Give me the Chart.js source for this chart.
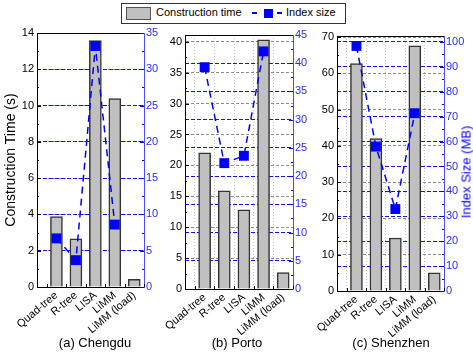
<!DOCTYPE html>
<html>
<head>
<meta charset="utf-8">
<script src="https://cdn.jsdelivr.net/npm/chart.js@4.4.0/dist/chart.umd.min.js"></script>
<style>
  body { margin: 0; width: 473px; height: 357px; position: relative; background: #fff; overflow: hidden;
         font-family: "Liberation Sans", Arial, sans-serif; }
  canvas { position: absolute; top: 0; }
  .abs { position: absolute; white-space: nowrap; }
  #legend { left: 121px; top: 3px; width: 223px; height: 19px; border: 1px solid #333; }
  .sub { top: 335px; font-size: 13px; line-height: 15px; transform: translateX(-50%); }
</style>
</head>
<body>
<div id="legend" class="abs"></div>
<div class="abs" style="left:126px;top:7px;width:23px;height:11px;background:#c0c0c0;border:1px solid #555;"></div>
<div class="abs" style="left:156px;top:6px;font-size:11px;line-height:13px;">Construction time</div>
<div class="abs" style="left:252px;top:12px;width:5px;height:2px;background:#0000ff;"></div>
<div class="abs" style="left:264px;top:9px;width:9px;height:9px;background:#0000ff;"></div>
<div class="abs" style="left:277px;top:12px;width:5px;height:2px;background:#0000ff;"></div>
<div class="abs" style="left:286px;top:6px;font-size:11px;line-height:13px;">Index size</div>

<canvas id="chengdu" width="160" height="357" style="left:0px"></canvas>
<canvas id="porto" width="150" height="357" style="left:160px"></canvas>
<canvas id="shenzhen" width="163" height="357" style="left:310px"></canvas>

<div class="abs sub" style="left:95px;">(a) Chengdu</div>
<div class="abs sub" style="left:237px;">(b) Porto</div>
<div class="abs sub" style="left:391px;">(c) Shenzhen</div>
<div class="abs" style="left:466px;top:172px;font-size:13px;color:#0000ff;transform:translate(-50%,-50%) rotate(-90deg);">Index Size (MB)</div>

<script>
// categories
const methods = ["Quad-tree", "R-tree", "LISA", "LiMM", "LiMM (load)"];

// construction time (s), left axis
const chengduTime = [3.88, 2.65, 13.58, 10.38, 0.42];
const portoTime = [22.05, 15.9, 12.8, 40.3, 2.64];
const shenzhenTime = [62.7, 42.0, 14.6, 67.6, 5.0];

// index size (MB), right axis
const chengduSize = [6.7, 3.7, 33.2, 8.6, null];
const portoSize = [39.3, 22.3, 23.6, 42.1, null];
const shenzhenSize = [98.4, 58.0, 32.9, 71.4, null];

const BLUE = "#0000ff";

// the x axis runs in half steps: one empty slot left of the first bar,
// half a slot right of the last one (as in the original figure)
const SLOTS = 12;
const slotOf = (i) => 2 * i + 2;
const axisLabels = Array(SLOTS).fill("");
methods.forEach((m, i) => { axisLabels[slotOf(i)] = m; });

function toSlots(values) {
    const out = Array(SLOTS).fill(null);
    values.forEach((v, i) => { out[slotOf(i)] = v; });
    return out;
}

// top border + inward ticks, like the original plot frame
const framePlugin = {
    id: "frame",
    afterDraw(chart) {
        const { ctx, chartArea: a, scales } = chart;
        ctx.save();
        ctx.lineWidth = 1;
        ctx.strokeStyle = "#000";
        ctx.beginPath();
        ctx.moveTo(a.left, a.top + 0.5);
        ctx.lineTo(a.right, a.top + 0.5);
        ctx.stroke();

        // left axis ticks
        const y = scales.y;
        const yStep = y.ticks[1].value - y.ticks[0].value;
        for (let v = 0; v <= y.max + 1e-9; v += yStep / 2) {
            const p = Math.round(y.getPixelForValue(v)) + 0.5;
            const len = Math.abs(v / yStep - Math.round(v / yStep)) < 1e-6 ? 4 : 2;
            ctx.beginPath();
            ctx.moveTo(a.left, p);
            ctx.lineTo(a.left + len, p);
            ctx.stroke();
        }
        // bottom ticks between categories
        const x = scales.x;
        for (let k = 1; k < SLOTS; k += 2) {
            const p = Math.round(x.getPixelForValue(k)) + 0.5;
            ctx.beginPath();
            ctx.moveTo(p, a.bottom);
            ctx.lineTo(p, a.bottom - 3);
            ctx.stroke();
        }
        // right axis ticks
        ctx.strokeStyle = BLUE;
        const y1 = scales.y1;
        const y1Step = y1.ticks[1].value - y1.ticks[0].value;
        for (let v = 0; v <= y1.max + 1e-9; v += y1Step / 2) {
            const p = Math.round(y1.getPixelForValue(v)) + 0.5;
            const len = Math.abs(v / y1Step - Math.round(v / y1Step)) < 1e-6 ? 4 : 2;
            ctx.beginPath();
            ctx.moveTo(a.right, p);
            ctx.lineTo(a.right - len, p);
            ctx.stroke();
        }
        ctx.restore();
    }
};

function makeChart(id, times, sizes, cfg) {
    const ctx = document.getElementById(id).getContext("2d");
    return new Chart(ctx, {
        data: {
            labels: axisLabels,
            datasets: [
                {
                    type: "line",
                    label: "Index size",
                    data: toSlots(sizes),
                    yAxisID: "y1",
                    spanGaps: true,
                    borderColor: BLUE,
                    borderWidth: 1.5,
                    borderDash: [7, 5],
                    pointStyle: "rect",
                    pointRadius: 7,
                    pointBackgroundColor: BLUE,
                    pointBorderWidth: 0,
                    fill: false,
                    order: 0
                },
                {
                    type: "bar",
                    label: "Construction time",
                    data: toSlots(times),
                    yAxisID: "y",
                    backgroundColor: "#c0c0c0",
                    borderColor: "#333",
                    borderWidth: 1.5,
                    barThickness: 12,
                    order: 1
                }
            ]
        },
        options: {
            responsive: false,
            animation: false,
            layout: { padding: { top: cfg.top, bottom: 0, left: 0, right: 0 } },
            plugins: { legend: { display: false }, tooltip: { enabled: false } },
            scales: {
                x: {
                    type: "category",
                    offset: false,
                    afterFit: (s) => { s.height = 357 - cfg.bottom; },
                    ticks: {
                        autoSkip: false,
                        minRotation: 40,
                        maxRotation: 40,
                        padding: 2,
                        color: "#000",
                        font: { family: "Liberation Sans", size: 11 }
                    },
                    grid: {
                        display: cfg.xGrid,
                        offset: false,
                        drawTicks: false,
                        color: (c) => (c.index % 2 === 1 ? "#c4c4c4" : "rgba(0,0,0,0)"),
                        lineWidth: 1
                    },
                    border: { display: true, color: "#000", width: 1, dash: [1, 2] }
                },
                y: {
                    position: "left",
                    min: 0,
                    max: cfg.leftMax,
                    afterFit: (s) => { s.width = cfg.yW; },
                    ticks: {
                        stepSize: cfg.leftStep,
                        includeBounds: false,
                        padding: 3,
                        color: "#000",
                        font: { family: "Liberation Sans", size: 11 }
                    },
                    grid: { drawTicks: false, color: "#8c8c8c", lineWidth: 1 },
                    border: { display: true, color: "#000", width: 1, dash: [3, 2] },
                    title: {
                        display: cfg.leftTitle,
                        text: "Construction Time (s)",
                        color: "#000",
                        padding: { top: 3, bottom: 0 },
                        font: { family: "Liberation Sans", size: 14 }
                    }
                },
                y1: {
                    position: "right",
                    min: 0,
                    max: cfg.rightMax,
                    afterFit: (s) => { s.width = cfg.y1W; },
                    ticks: {
                        stepSize: cfg.rightStep,
                        includeBounds: false,
                        padding: 2,
                        color: "#2b2bff",
                        font: { family: "Liberation Sans", size: 11 }
                    },
                    grid: { drawTicks: false, color: "#1010ff", lineWidth: 1 },
                    border: { display: true, color: "#4a4aff", width: 1, dash: [4, 2] }
                }
            }
        },
        plugins: [framePlugin]
    });
}

makeChart("chengdu", chengduTime, chengduSize, {
    leftMax: 14, leftStep: 2, rightMax: 35, rightStep: 5,
    yW: 37, y1W: 16, top: 33, bottom: 287, xGrid: false, leftTitle: true
});
makeChart("porto", portoTime, portoSize, {
    leftMax: 41.1, leftStep: 5, rightMax: 45, rightStep: 5,
    yW: 25, y1W: 17, top: 35, bottom: 289, xGrid: true, leftTitle: false
});
makeChart("shenzhen", shenzhenTime, shenzhenSize, {
    leftMax: 70.3, leftStep: 10, rightMax: 102.4, rightStep: 10,
    yW: 27, y1W: 29, top: 36, bottom: 291, xGrid: true, leftTitle: false
});
</script>
</body>
</html>
